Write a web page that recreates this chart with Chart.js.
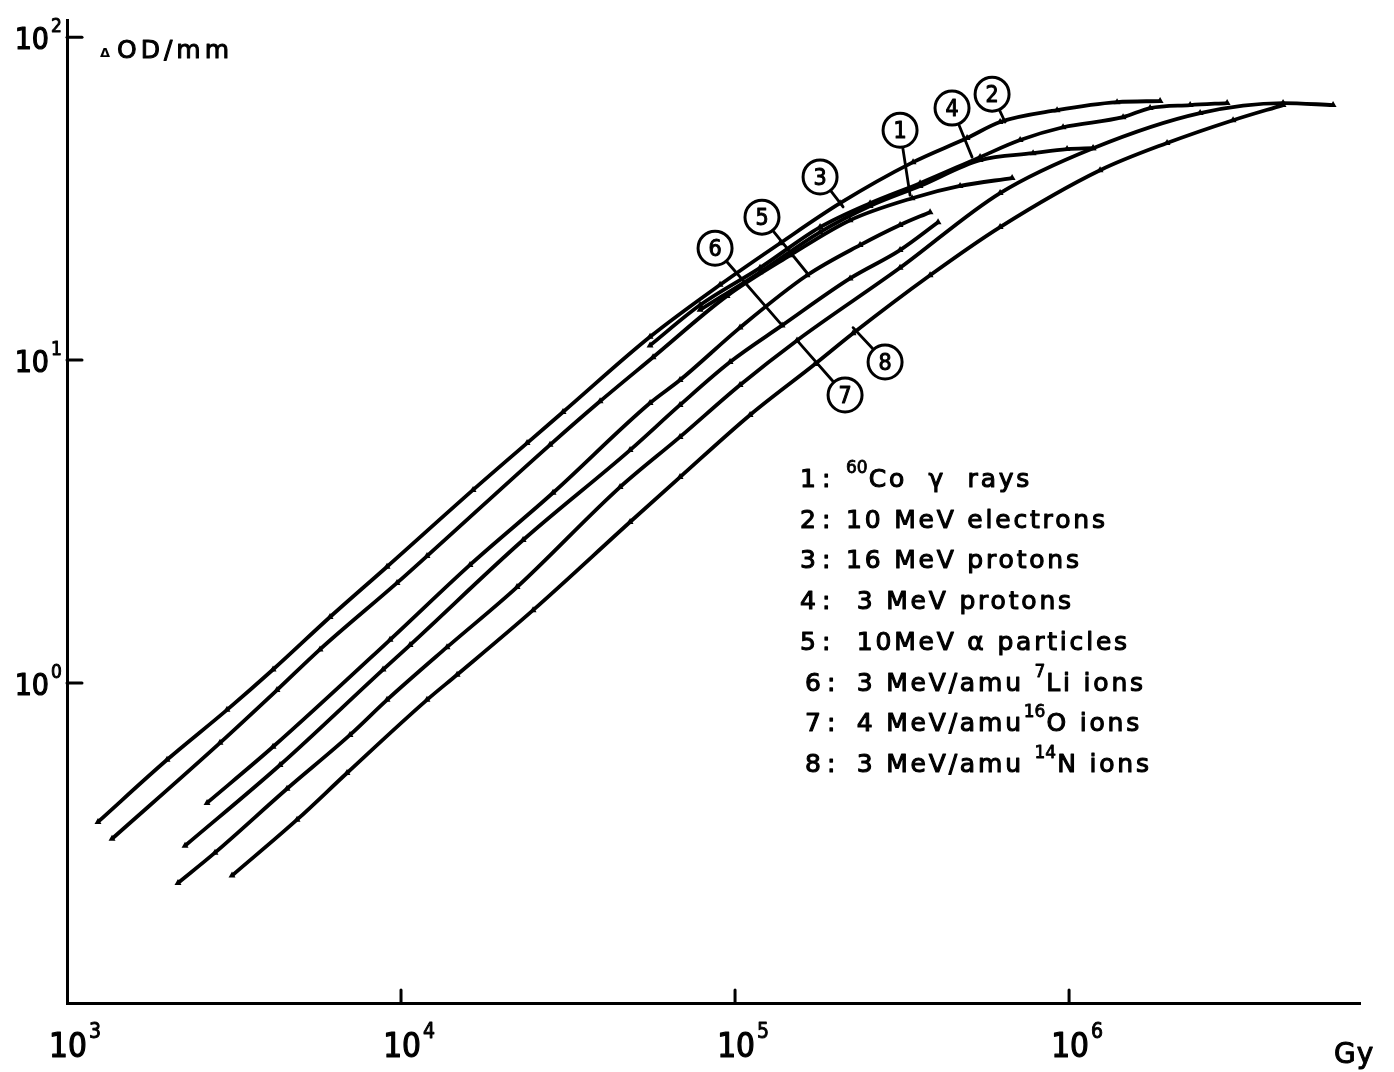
<!DOCTYPE html>
<html>
<head>
<meta charset="utf-8">
<script src="https://cdn.jsdelivr.net/npm/chart.js@4.4.1/dist/chart.umd.min.js"></script>
<style>
  html, body { margin: 0; padding: 0; background: #fff; }
  #wrap { width: 1394px; height: 1072px; }
</style>
</head>
<body>
<div id="wrap"><canvas id="c" width="1394" height="1072"></canvas></div>
<script>
// Dose (Gy) and optical density change per mm for each irradiation
const coGammaDose = [1364, 2871, 4253, 5721, 9728, 11960, 27930, 39430, 56820, 94630, 146100, 221000, 338800, 471700, 675300];
const coGammaOD   = [0.329, 0.652, 0.95, 1.27, 2.04, 2.47, 5.46, 7.45, 10.2, 15.8, 21.1, 27.1, 31.7, 34.6, 36.6];

const electronDose = [1238, 1993, 3013, 4139, 6130, 9081, 16430, 23840, 30550, 55660, 90190, 136400, 206300, 341200, 495000, 621600, 920700, 1392000, 1873000];
const electronOD   = [0.371, 0.578, 0.825, 1.10, 1.60, 2.29, 3.96, 5.53, 6.90, 11.8, 17.1, 23.0, 30.6, 41.0, 48.7, 54.6, 59.4, 62.9, 63.4];

const proton16Dose = [55660, 78590, 118800, 179700, 253700, 358000, 541400, 713600, 959400, 1451000, 1748000, 2304000, 2973000];
const proton16OD   = [11.1, 14.8, 19.3, 25.8, 30.6, 35.3, 42.5, 48.0, 52.6, 56.5, 60.3, 61.6, 62.5];

const proton3Dose = [78590, 118800, 179700, 253700, 358000, 541400, 780400, 986300, 1180000];
const proton3OD   = [14.3, 18.7, 24.9, 30.0, 34.6, 41.6, 43.7, 45.0, 45.3];

const alphaDose = [2626, 4139, 9271, 16090, 28520, 55660, 68440, 103500, 164300, 236700, 311900, 383600];
const alphaOD   = [0.425, 0.634, 1.36, 2.32, 3.88, 7.36, 8.67, 12.6, 18.3, 22.7, 26.2, 28.7];

const lithiumDose = [2256, 4342, 8834, 10640, 23200, 48490, 68440, 96610, 138300, 221000, 311900, 405300];
const lithiumOD   = [0.313, 0.557, 1.10, 1.31, 2.77, 5.26, 7.26, 9.86, 12.8, 17.9, 21.9, 26.7];

const oxygenDose = [2149, 2774, 4557, 7035, 9081, 13730, 22250, 45260, 68440, 103500, 153300, 311900, 621600, 1180000, 2468000, 4372000, 6172000];
const oxygenOD   = [0.240, 0.298, 0.47, 0.69, 0.886, 1.29, 1.98, 4.04, 5.78, 8.37, 11.5, 19.3, 32.9, 45.3, 58.2, 62.5, 61.6];

const nitrogenDose = [3119, 4883, 6891, 11960, 14720, 24850, 48490, 68440, 110900, 173600, 225600, 383600, 621600, 1238000, 1965000, 3097000, 4372000];
const nitrogenOD   = [0.253, 0.377, 0.526, 0.886, 1.06, 1.68, 3.15, 4.34, 6.76, 9.72, 12.1, 18.3, 25.8, 38.7, 47.0, 55.3, 61.6];

const curveNumbers = ['1', '2', '3', '4', '5', '6', '7', '8'];

// Legend rows: [number, parts of the description]; a part marked sup is raised
const legendRows = [
  ['1', [['60', true], ['Co  γ  rays', false]]],
  ['2', [['10 MeV electrons', false]]],
  ['3', [['16 MeV protons', false]]],
  ['4', [[' 3 MeV protons', false]]],
  ['5', [[' 10MeV α particles', false]]],
  ['6', [[' 3 MeV/amu ', false], ['7', true], ['Li ions', false]]],
  ['7', [[' 4 MeV/amu', false], ['16', true], ['O ions', false]]],
  ['8', [[' 3 MeV/amu ', false], ['14', true], ['N ions', false]]]
];

const xTickPowers = [3, 4, 5, 6];
const yTickPowers = [0, 1, 2];
const yAxisTitle = 'OD/mm';
const xAxisTitle = 'Gy';

// Callout circles: [curve number, circle centre (dose, OD), point on the curve (dose, OD)]
const callouts = [
  ['1', [311900, 51.5], [334200, 32.4]],
  ['2', [588200, 66.6], [643300, 54.6]],
  ['3', [179700, 36.9], [210600, 29.8]],
  ['4', [446300, 60.3], [512400, 42.5]],
  ['5', [120400, 27.7], [164300, 18.6]],
  ['6', [87130, 22.2], [138300, 12.8]],
  ['7', [213500, 7.79], [153300, 11.5]],
  ['8', [281300, 9.86], [225600, 12.6]]
];

const seriesSets = [
  [coGammaDose, coGammaOD],
  [electronDose, electronOD],
  [proton16Dose, proton16OD],
  [proton3Dose, proton3OD],
  [alphaDose, alphaOD],
  [lithiumDose, lithiumOD],
  [oxygenDose, oxygenOD],
  [nitrogenDose, nitrogenOD]
];

const datasets = seriesSets.map(([dose, od], i) => ({
  label: curveNumbers[i],
  data: dose.map((d, k) => ({ x: d, y: od[k] })),
  borderColor: '#000',
  backgroundColor: '#000',
  borderWidth: 3.8,
  tension: 0.4,
  cubicInterpolationMode: 'monotone',
  pointStyle: 'triangle',
  pointRadius: 4,
  pointBorderWidth: 0,
  pointBackgroundColor: '#000',
  fill: false
}));

const FONT = '"DejaVu Sans"';
const FONT_C = '"DejaVu Sans Condensed"';

// filled text with a thin outline, for a medium stroke weight
function heavyText(ctx, t, x, y, w) {
  ctx.lineWidth = w;
  ctx.lineJoin = 'round';
  ctx.strokeText(t, x, y);
  ctx.fillText(t, x, y);
}

function drawSupText(ctx, base, sup, x, y, baseFont, supFont, supRise, align) {
  ctx.font = baseFont;
  const wb = ctx.measureText(base).width;
  let x0 = x;
  if (align === 'center') x0 = x - wb / 2;
  if (align === 'right') x0 = x - wb;
  ctx.textAlign = 'left';
  heavyText(ctx, base, x0, y, 1.2);
  ctx.font = supFont;
  heavyText(ctx, sup, x0 + wb + 2, y - supRise, 0.9);
}

const decorations = {
  id: 'decorations',
  afterDraw(chart) {
    const { ctx, chartArea, scales } = chart;
    const xs = scales.x, ys = scales.y;
    ctx.save();
    ctx.fillStyle = '#000';
    ctx.strokeStyle = '#000';
    ctx.lineCap = 'round';
    ctx.textBaseline = 'alphabetic';

    // inward tick marks
    ctx.lineWidth = 3;
    yTickPowers.forEach(p => {
      const y = ys.getPixelForValue(Math.pow(10, p));
      ctx.beginPath(); ctx.moveTo(chartArea.left, y); ctx.lineTo(chartArea.left + 15, y); ctx.stroke();
    });
    xTickPowers.slice(1).forEach(p => {
      const x = xs.getPixelForValue(Math.pow(10, p));
      ctx.beginPath(); ctx.moveTo(x, chartArea.bottom); ctx.lineTo(x, chartArea.bottom - 13); ctx.stroke();
    });

    // tick labels
    yTickPowers.forEach(p => {
      const y = ys.getPixelForValue(Math.pow(10, p));
      drawSupText(ctx, '10', String(p), 49, y + 12, '30px ' + FONT_C, '19px ' + FONT_C, 17, 'right');
    });
    xTickPowers.forEach(p => {
      const x = xs.getPixelForValue(Math.pow(10, p));
      drawSupText(ctx, '10', String(p), x + 1, chartArea.bottom + 54, '33px ' + FONT_C, '21px ' + FONT_C, 19, 'center');
    });

    // axis titles
    ctx.font = 'bold 13px ' + FONT;
    ctx.textAlign = 'left';
    ctx.fillText('Δ', 100, 57);
    ctx.font = '25px ' + FONT;
    ctx.letterSpacing = '4px';
    heavyText(ctx, yAxisTitle, 117, 58, 1);
    ctx.letterSpacing = '1px';
    ctx.font = '28px ' + FONT;
    heavyText(ctx, xAxisTitle, 1334, 1063, 1);
    ctx.letterSpacing = '0px';

    // callouts
    callouts.forEach(([num, c, p]) => {
      const cx = xs.getPixelForValue(c[0]), cy = ys.getPixelForValue(c[1]);
      const px = xs.getPixelForValue(p[0]), py = ys.getPixelForValue(p[1]);
      const r = 17;
      const dx = px - cx, dy = py - cy, len = Math.hypot(dx, dy);
      ctx.lineWidth = 2.8;
      ctx.beginPath();
      ctx.moveTo(cx + dx / len * r, cy + dy / len * r);
      ctx.lineTo(px, py);
      ctx.stroke();
      ctx.beginPath();
      ctx.arc(cx, cy, r, 0, Math.PI * 2);
      ctx.fillStyle = '#fff';
      ctx.fill();
      ctx.lineWidth = 3;
      ctx.stroke();
      ctx.fillStyle = '#000';
      ctx.font = '23px ' + FONT_C;
      ctx.textAlign = 'center';
      heavyText(ctx, num, cx, cy + 8, 1);
    });

    // legend block
    const rowY0 = 487, rowStep = 40.7;
    legendRows.forEach(([num, parts], i) => {
      const y = rowY0 + i * rowStep;
      const nx = i < 5 ? 800 : 805;
      ctx.textAlign = 'left';
      ctx.letterSpacing = '0px';
      ctx.font = '25px ' + FONT;
      heavyText(ctx, num, nx, y, 1.1);
      heavyText(ctx, ':', nx + 22, y, 1.1);
      let x = 846;
      parts.forEach(([t, sup]) => {
        if (sup) {
          ctx.letterSpacing = '0px';
          ctx.font = '17px ' + FONT;
          heavyText(ctx, t, x, y - 14, 0.8);
          x += ctx.measureText(t).width + 1;
        } else {
          ctx.letterSpacing = '2.8px';
          ctx.font = '25px ' + FONT;
          heavyText(ctx, t, x, y, 1.1);
          x += ctx.measureText(t).width;
        }
      });
    });
    ctx.letterSpacing = '0px';
    ctx.restore();
  }
};

new Chart(document.getElementById('c'), {
  type: 'line',
  data: { datasets },
  options: {
    responsive: false,
    animation: false,
    devicePixelRatio: 1,
    layout: { padding: { left: 67, top: 20, right: 34, bottom: 69 } },
    plugins: { legend: { display: false }, tooltip: { enabled: false } },
    scales: {
      x: {
        type: 'logarithmic',
        min: 1000,
        max: 7.43e6,
        grid: { display: false },
        border: { display: true, color: '#000', width: 3 },
        ticks: { display: false },
        afterFit(s) { s.height = 0; }
      },
      y: {
        type: 'logarithmic',
        min: 0.102,
        max: 113,
        grid: { display: false },
        border: { display: true, color: '#000', width: 3 },
        ticks: { display: false },
        afterFit(s) { s.width = 0; }
      }
    }
  },
  plugins: [decorations]
});
</script>
</body>
</html>
